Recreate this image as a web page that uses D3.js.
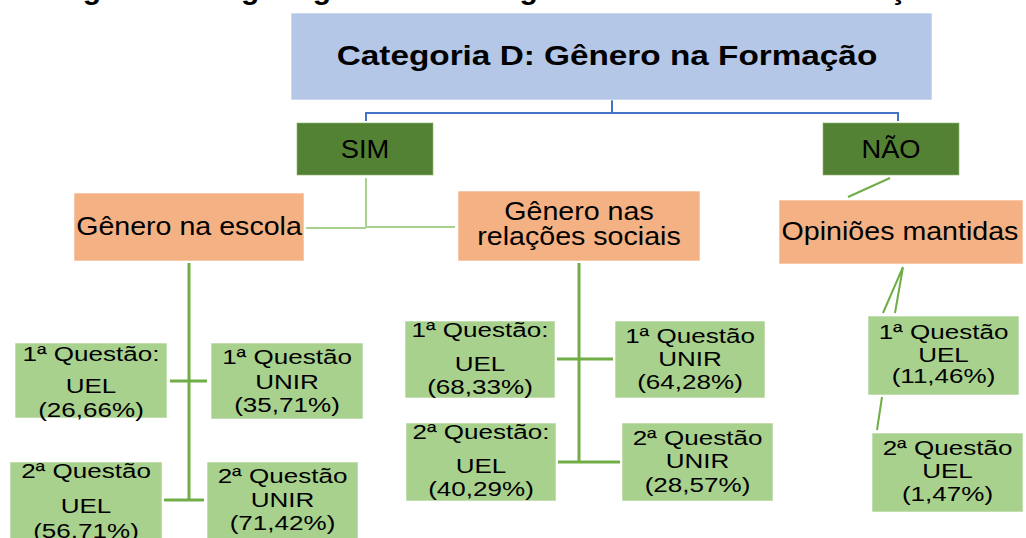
<!DOCTYPE html>
<html>
  <head>
    <meta charset="utf-8">
    <title>Categoria D: Gênero na Formação</title>
    <script src="https://d3js.org/d3.v7.min.js"></script>
    <style>
      body { margin: 0; background: #fff; }
      svg { display: block; }
      text { font-family: Arial, "Liberation Sans", sans-serif; fill: #000; }
    </style>
  </head>
  <body>
    <svg width="1026" height="538"></svg>
    <script>
      // textos e valores do organograma
      var legenda = "Figura 8 – Organograma da Categoria D: Gênero na Formação";
      var titulo = "Categoria D: Gênero na Formação";
      var respostas = ["SIM", "NÃO"];
      var temas = [["Gênero na escola"], ["Gênero nas", "relações sociais"], ["Opiniões mantidas"]];
      var questoes = ["1ª Questão", "2ª Questão"];
      var instituicoes = ["UEL", "UNIR"];
      var escolaUEL = [26.66, 56.71];
      var escolaUNIR = [35.71, 71.42];
      var relacoesUEL = [68.33, 40.29];
      var relacoesUNIR = [64.28, 28.57];
      var mantidasUEL = [11.46, 1.47];
      // rótulos que aparecem com dois pontos na figura
      var comDoisPontos = ["escola-UEL-0", "relacoes-UEL-0", "relacoes-UEL-1"];

      var svg = d3.select("svg");
      var br = d3.formatLocale({decimal: ",", thousands: ".", grouping: [3], currency: ["R$", ""]});
      var pct = function(v) { return "(" + br.format(".2f")(v) + "%)"; };

      var cor = d3.scaleOrdinal()
          .domain(["raiz", "resposta", "tema", "folha"])
          .range(["#b4c7e7", "#548235", "#f4b183", "#a9d18e"]);

      // caixas: [x, y, largura, altura]
      var caixaRaiz = [291, 13, 641, 87];
      var caixasResposta = [[297, 123, 136, 52], [823, 123, 136, 52]];
      var caixasTema = [[74, 193, 230, 68], [458, 191, 242, 70], [779, 200, 244, 64]];

      var folhas = [];
      function addFolhas(tema, inst, valores, boxes, linhas) {
        valores.forEach(function(v, i) {
          var id = tema + "-" + inst + "-" + i;
          var q = questoes[i] + (comDoisPontos.indexOf(id) >= 0 ? ":" : "");
          folhas.push({id: id, box: boxes[i], bl: linhas[i], linhas: [q, inst, pct(v)]});
        });
      }
      addFolhas("escola", instituicoes[0], escolaUEL,
        [[15, 343, 152, 75], [10, 462, 152, 80]], [[361, 393, 417], [478, 513, 538]]);
      addFolhas("escola", instituicoes[1], escolaUNIR,
        [[211, 343, 152, 76], [207, 462, 151, 80]], [[364, 389, 412], [483, 507, 530]]);
      addFolhas("relacoes", instituicoes[0], relacoesUEL,
        [[405, 321, 150, 77], [406, 423, 150, 78]], [[337, 371, 394], [439, 473, 496]]);
      addFolhas("relacoes", instituicoes[1], relacoesUNIR,
        [[615, 321, 150, 77], [622, 423, 151, 78]], [[343, 366, 389], [445, 468, 492]]);
      addFolhas("mantidas", instituicoes[0], mantidasUEL,
        [[868, 316, 151, 79], [872, 433, 151, 79]], [[339, 362, 383], [455, 478, 501]]);

      // legenda cortada no topo da imagem
      svg.append("text")
          .attr("x", 56).attr("y", -1)
          .style("font-weight", "bold").style("font-size", "30px")
          .text(legenda);

      // linhas de ligação
      var lig = svg.append("g").attr("fill", "none");
      var cx = function(b) { return b[0] + b[2] / 2; };
      var yb = caixaRaiz[1] + caixaRaiz[3];
      lig.append("path")
          .attr("stroke", "#4472c4").attr("stroke-width", 2)
          .attr("d", "M" + 612 + "," + yb + "V113M" + 366 + ",121V113H898V121");

      lig.append("path")
          .attr("stroke", "#a9d18e").attr("stroke-width", 2)
          .attr("d", "M366,178V227M306,228H366M366,227H455");

      lig.append("path")
          .attr("stroke", "#70ad47").attr("stroke-width", 2)
          .attr("d", "M890,178L848,197");

      var tE = caixasTema[0], tR = caixasTema[1], tM = caixasTema[2];
      lig.append("path")
          .attr("stroke", "#70ad47").attr("stroke-width", 3)
          .attr("d", "M" + cx(tE) + "," + (tE[1] + tE[3] + 2) + "V500M170,381H207M164,500H204");
      lig.append("path")
          .attr("stroke", "#70ad47").attr("stroke-width", 3)
          .attr("d", "M" + cx(tR) + "," + (tR[1] + tR[3] + 2) + "V462M557,359H613M558,462H620");
      lig.append("path")
          .attr("stroke", "#70ad47").attr("stroke-width", 2)
          .attr("d", "M903,267L883,313M903,267L895,313M882,397L877,430");

      function caixa(b, nivel) {
        svg.append("rect")
            .attr("x", b[0]).attr("y", b[1])
            .attr("width", b[2]).attr("height", b[3])
            .attr("fill", cor(nivel))
            .attr("stroke", nivel === "resposta" ? "#8fb472" : "#ffffff")
            .attr("stroke-opacity", 0.6)
            .attr("stroke-width", 1);
      }
      function texto(x, y, s, tam, esticar, peso) {
        svg.append("text")
            .attr("transform", "translate(" + x + "," + y + ") scale(" + esticar + ",1)")
            .attr("text-anchor", "middle")
            .style("font-size", tam + "px")
            .style("font-weight", peso || "normal")
            .text(s);
      }

      caixa(caixaRaiz, "raiz");
      texto(607, 65, titulo, 28, 1.19, "bold");

      var blResp = [158, 158], cxResp = [365, 891];
      caixasResposta.forEach(function(b, i) {
        caixa(b, "resposta");
        texto(cxResp[i], blResp[i], respostas[i], 26, 1.05);
      });

      var blTema = [[235], [220, 245], [240]], cxTema = [189, 579, 900];
      caixasTema.forEach(function(b, i) {
        caixa(b, "tema");
        temas[i].forEach(function(l, j) {
          texto(cxTema[i], blTema[i][j], l, 26, 1.1);
        });
      });

      folhas.forEach(function(f) {
        caixa(f.box, "folha");
        f.linhas.forEach(function(l, j) {
          texto(cx(f.box), f.bl[j], l, 21, 1.24);
        });
      });
    </script>
  </body>
</html>
